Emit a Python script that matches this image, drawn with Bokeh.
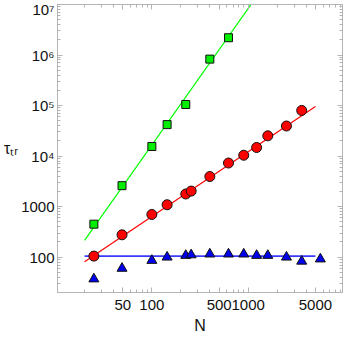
from bokeh.plotting import figure
from bokeh.models import FixedTicker, LogAxis, Range1d, AllLabels
from bokeh.embed import file_html
from bokeh.resources import INLINE

# ---- data ----
green_N = [25, 49, 100, 144, 225, 400, 625]
green_tau = [450, 2600, 15500, 42000, 105000, 830000, 2200000]

red_N = [25, 49, 100, 144, 225, 256, 400, 625, 900, 1225, 1600, 2500, 3600]
red_tau = [105, 277, 700, 1090, 1780, 2030, 3940, 7300, 10400, 14800, 25200, 39400, 80000]

blue_N = [25, 49, 100, 144, 225, 256, 400, 625, 900, 1225, 1600, 2500, 3600, 5625]
blue_tau = [37, 60, 86, 100, 108, 111, 115, 115, 115, 108, 108, 100, 83, 92]

# power-law fits  tau = A * N**b, drawn over N in fit_N
fit_N = [20, 5000]
green_fit_A, green_fit_b = 0.066, 2.70
red_fit_A, red_fit_b = 1.74, 1.282
blue_fit_level = 105

x_ticks = [50, 100, 500, 1000, 5000]
x_tick_labels = ["50", "100", "500", "1000", "5000"]
y_ticks = [1e2, 1e3, 1e4, 1e5, 1e6, 1e7]
y_tick_labels = ["100", "1000", "10\u2074", "10\u2075", "10\u2076", "10\u2077"]

x_minor = [m * 10 ** d for d in (1, 2, 3) for m in range(2, 10)]
y_minor = [m * 10 ** d for d in (1, 2, 3, 4, 5, 6) for m in range(2, 10)]

FRAME = "#b4b4b4"
FONT = "Liberation Sans"

p = figure(width=344, height=336, x_axis_type="log", y_axis_type="log",
           x_range=Range1d(10 ** 1.02, 10 ** 3.98), y_range=Range1d(20, 1e7),
           output_backend="svg", toolbar_location=None,
           min_border_left=51, min_border_right=2, min_border_top=4, min_border_bottom=0)
p.grid.grid_line_color = None
p.outline_line_color = FRAME
p.background_fill_color = "white"
p.border_fill_color = "white"

bottom = p.below[0]
left = p.left[0]

xt = FixedTicker(ticks=x_ticks, minor_ticks=x_minor)
yt = FixedTicker(ticks=y_ticks, minor_ticks=y_minor)
bottom.ticker = xt
left.ticker = yt
bottom.major_label_overrides = {float(t): l for t, l in zip(x_ticks, x_tick_labels)}
left.major_label_overrides = {float(t): l for t, l in zip(y_ticks, y_tick_labels)}
bottom.major_label_policy = AllLabels()
left.major_label_policy = AllLabels()

top = LogAxis(ticker=xt)
right = LogAxis(ticker=yt)
top.major_label_overrides = {float(t): "" for t in x_ticks}
right.major_label_overrides = {float(t): "" for t in y_ticks}
p.add_layout(top, "above")
p.add_layout(right, "right")

for ax in [bottom, left, top, right]:
    ax.axis_line_color = FRAME
    ax.major_tick_line_color = FRAME
    ax.minor_tick_line_color = FRAME
    ax.major_tick_in = 5
    ax.major_tick_out = 0
    ax.minor_tick_in = 3
    ax.minor_tick_out = 0
    ax.major_label_text_font = FONT
    ax.major_label_text_font_size = "15px"
    ax.major_label_text_color = "#111111"
for ax in [top, right]:
    ax.major_label_text_font_size = "0px"
    ax.major_label_standoff = 0

bottom.major_label_standoff = 7
left.major_label_standoff = 3

bottom.axis_label = "N"
left.axis_label = "\u03c4\u209c\u1d63"
left.axis_label_orientation = "horizontal"
for ax in [bottom, left]:
    ax.axis_label_text_font = FONT
    ax.axis_label_text_font_size = "16px"
    ax.axis_label_text_font_style = "normal"
    ax.axis_label_text_color = "#111111"
bottom.axis_label_standoff = 4
left.axis_label_standoff = 0

# fit lines
green_line = [green_fit_A * n ** green_fit_b for n in fit_N]
red_line = [red_fit_A * n ** red_fit_b for n in fit_N]
blue_line = [blue_fit_level for n in fit_N]
p.line(fit_N, green_line, line_color="#00ff00", line_width=1.2)
p.line(fit_N, red_line, line_color="#ff0000", line_width=1.2)
p.line(fit_N, blue_line, line_color="#3a3aff", line_width=1.8)

# markers
p.scatter(green_N, green_tau, marker="square", size=8, fill_color="#00ee00",
          line_color="#111111", line_width=1)
p.scatter(red_N, red_tau, marker="circle", size=10, fill_color="#ff0000",
          line_color="#111111", line_width=1)
p.scatter(blue_N, blue_tau, marker="triangle", size=10, fill_color="#0000ee",
          line_color="#111111", line_width=1)

open("out.html", "w").write(file_html(p, INLINE))
